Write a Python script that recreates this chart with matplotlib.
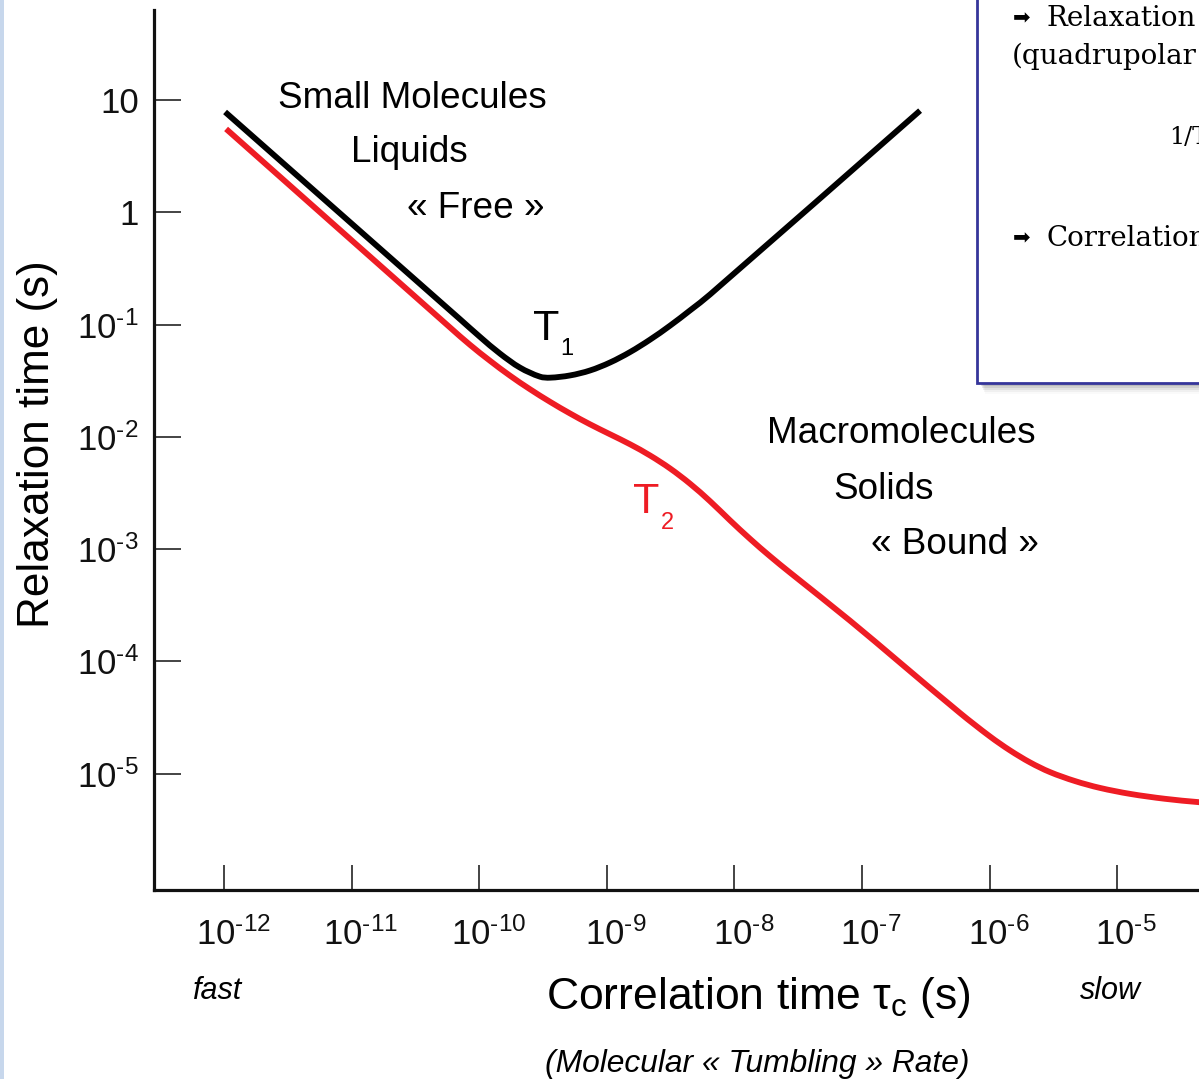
import numpy as np
import matplotlib
matplotlib.use("Agg")
import matplotlib.pyplot as plt
from matplotlib.path import Path
from matplotlib.patches import PathPatch, Rectangle
from matplotlib.transforms import ScaledTranslation

plt.rcParams['font.family'] = ['Liberation Sans', 'DejaVu Sans']
plt.rcParams['mathtext.fontset'] = 'custom'
plt.rcParams['mathtext.rm'] = 'Liberation Sans'
plt.rcParams['mathtext.it'] = 'Liberation Sans:italic'
plt.rcParams['mathtext.bf'] = 'Liberation Sans:bold'

# ---- data (log10 of correlation time, log10 of relaxation time) ----
t1_log_tau = [-11.992, -10.150, -9.994, -9.837, -9.680, -9.524, -9.445,
              -9.288, -9.132, -8.975, -8.818, -8.661, -8.505, -8.348,
              -8.191, -6.545]
t1_log_T = [0.893, -0.953, -1.110, -1.259, -1.384, -1.464, -1.473,
            -1.453, -1.409, -1.338, -1.245, -1.134, -1.010, -0.874,
            -0.732, 0.905]

t2_log_tau = [-11.984, -10.229, -10.072, -9.915, -9.759, -9.602, -9.445,
              -9.288, -9.132, -8.975, -8.818, -8.661, -8.505, -8.348,
              -8.191, -8.035, -7.878, -7.721, -7.564, -7.094, -6.702,
              -6.232, -5.997, -5.840, -5.683, -5.527, -5.331, -5.135,
              -4.900, -4.625, -4.359, -4.116]
t2_log_T = [0.742, -1.026, -1.181, -1.323, -1.455, -1.576, -1.688,
            -1.792, -1.888, -1.977, -2.066, -2.166, -2.281, -2.417,
            -2.573, -2.743, -2.908, -3.063, -3.209, -3.637, -4.011,
            -4.459, -4.668, -4.792, -4.899, -4.985, -5.065, -5.126,
            -5.179, -5.223, -5.253, -5.275]

x_ticks = [1e-12, 1e-11, 1e-10, 1e-9, 1e-8, 1e-7, 1e-6, 1e-5]
x_tick_labels = [r'10$^{\text{-}12}$', r'10$^{\text{-}11}$', r'10$^{\text{-}10}$',
                 r'10$^{\text{-}9}$', r'10$^{\text{-}8}$', r'10$^{\text{-}7}$',
                 r'10$^{\text{-}6}$', r'10$^{\text{-}5}$']
y_ticks = [10, 1, 1e-1, 1e-2, 1e-3, 1e-4, 1e-5]
y_tick_labels = ['10', '1', r'10$^{\text{-}1}$', r'10$^{\text{-}2}$',
                 r'10$^{\text{-}3}$', r'10$^{\text{-}4}$', r'10$^{\text{-}5}$']

W, H = 1199, 1079
fig = plt.figure(figsize=(W / 100, H / 100), dpi=100)
fig.patch.set_facecolor('white')


def fx(x):
    return x / W


def fy(y):
    return 1 - y / H


# axes box (right side runs past the figure edge)
left_px, right_px, top_px, bottom_px = 154, 1260, 10, 890
ax = fig.add_axes([fx(left_px), fy(bottom_px), (right_px - left_px) / W,
                   (bottom_px - top_px) / H])
ax.set_xscale('log')
ax.set_yscale('log')
ax.set_xlim(10 ** -12.549, 10 ** -3.881)
ax.set_ylim(10 ** -6.035, 10 ** 1.801)
ax.patch.set_alpha(0)

for s in ('top', 'right'):
    ax.spines[s].set_visible(False)
for s in ('left', 'bottom'):
    ax.spines[s].set_linewidth(2.3)
    ax.spines[s].set_color('#111111')

ax.set_xticks(x_ticks)
ax.set_xticklabels(x_tick_labels)
ax.set_yticks(y_ticks)
ax.set_yticklabels(y_tick_labels)
ax.minorticks_off()
ax.tick_params(axis='x', direction='in', length=18, width=1.1, pad=20,
               labelsize=25, colors='#111111')
ax.tick_params(axis='y', direction='in', length=19.5, width=1.1, pad=11,
               labelsize=25, colors='#111111')
shift = ScaledTranslation(9 / 100, 0, fig.dpi_scale_trans)
for lab in ax.get_xticklabels():
    lab.set_transform(lab.get_transform() + shift)


def smooth_curve(lx, ly):
    """Cubic Bezier path through the points in log space; tangent handles
    are scaled by each segment's own length so nothing overshoots."""
    P = np.column_stack([lx, ly]).astype(float)
    n = len(P)
    tang = np.zeros_like(P)
    for i in range(n):
        a = P[max(i - 1, 0)]
        b = P[min(i + 1, n - 1)]
        d = b - a
        tang[i] = d / np.hypot(*d)
    verts = [P[0]]
    codes = [Path.MOVETO]
    for i in range(n - 1):
        p1, p2 = P[i], P[i + 1]
        seg = np.hypot(*(p2 - p1)) / 3
        verts += [p1 + tang[i] * seg, p2 - tang[i + 1] * seg, p2]
        codes += [Path.CURVE4] * 3
    return Path(10 ** np.array(verts), codes)


for lx, ly, col in ((t2_log_tau, t2_log_T, '#ee1c24'),
                    (t1_log_tau, t1_log_T, '#000000')):
    ax.add_patch(PathPatch(smooth_curve(lx, ly), facecolor='none',
                           edgecolor=col, lw=4.2, capstyle='butt',
                           joinstyle='round', clip_on=True))

# ---- annotations ----
fs = 26.6
fig.text(fx(412), fy(98), 'Small Molecules', ha='center', va='center', fontsize=fs)
fig.text(fx(409), fy(152), 'Liquids', ha='center', va='center', fontsize=fs)
fig.text(fx(476), fy(208), '« Free »', ha='center', va='center', fontsize=fs)
fig.text(fx(901), fy(433), 'Macromolecules', ha='center', va='center', fontsize=fs)
fig.text(fx(884), fy(490), 'Solids', ha='center', va='center', fontsize=fs)
fig.text(fx(955), fy(544), '« Bound »', ha='center', va='center', fontsize=fs)

fig.text(fx(546), fy(329), 'T', ha='center', va='center', fontsize=31)
fig.text(fx(567), fy(349), '1', ha='center', va='center', fontsize=17)
fig.text(fx(646), fy(502), 'T', ha='center', va='center', fontsize=31,
         color='#ee1c24')
fig.text(fx(667), fy(523), '2', ha='center', va='center', fontsize=17,
         color='#ee1c24')

fig.text(fx(38), fy(444), 'Relaxation time (s)', rotation=90, ha='center',
         va='center', fontsize=31.8)
fig.text(fx(758), fy(998), r'Correlation time τ$_{\mathrm{c}}$ (s)',
         ha='center', va='center', fontsize=32)
fig.text(fx(218), fy(991), 'fast', ha='center', va='center', fontsize=22,
         style='italic')
fig.text(fx(1110), fy(991), 'slow', ha='center', va='center', fontsize=22,
         style='italic')
fig.text(fx(757), fy(1064), '(Molecular « Tumbling » Rate)', ha='center',
         va='center', fontsize=22.9, style='italic')

# ---- side strip and framed note box ----
fig.patches.append(Rectangle((0, 0), fx(4), 1, transform=fig.transFigure,
                             facecolor='#c7d7ec', edgecolor='none', zorder=5))
for k, a in enumerate([0.10, 0.08, 0.06, 0.04, 0.02]):
    fig.patches.append(Rectangle((fx(981 + k), fy(386 + 2 * k)), 1,
                                 fy(0) - fy(386 + 2 * k) + 0.05,
                                 transform=fig.transFigure, facecolor='black',
                                 alpha=a, edgecolor='none', zorder=6))
fig.patches.append(Rectangle((fx(977), fy(383)), 1, 0.5,
                             transform=fig.transFigure, facecolor='white',
                             edgecolor='#35359a', lw=2.0, zorder=7))
serif = ['DejaVu Serif']
arrow_font = ['DejaVu Sans']
fig.text(fx(1013), fy(18), '➡', ha='left', va='center', fontsize=15,
         family=arrow_font, zorder=8)
fig.text(fx(1046), fy(18), 'Relaxation', ha='left', va='center', fontsize=20,
         family=serif, zorder=8)
fig.text(fx(1012), fy(56), '(quadrupolar', ha='left', va='center', fontsize=20,
         family=serif, zorder=8)
fig.text(fx(1169), fy(138), '1/T', ha='left', va='center', fontsize=17,
         family=serif, zorder=8)
fig.text(fx(1013), fy(238), '➡', ha='left', va='center', fontsize=15,
         family=arrow_font, zorder=8)
fig.text(fx(1046), fy(238), 'Correlation', ha='left', va='center', fontsize=20,
         family=serif, zorder=8)

fig.savefig('out.png', dpi=100, facecolor='white')
